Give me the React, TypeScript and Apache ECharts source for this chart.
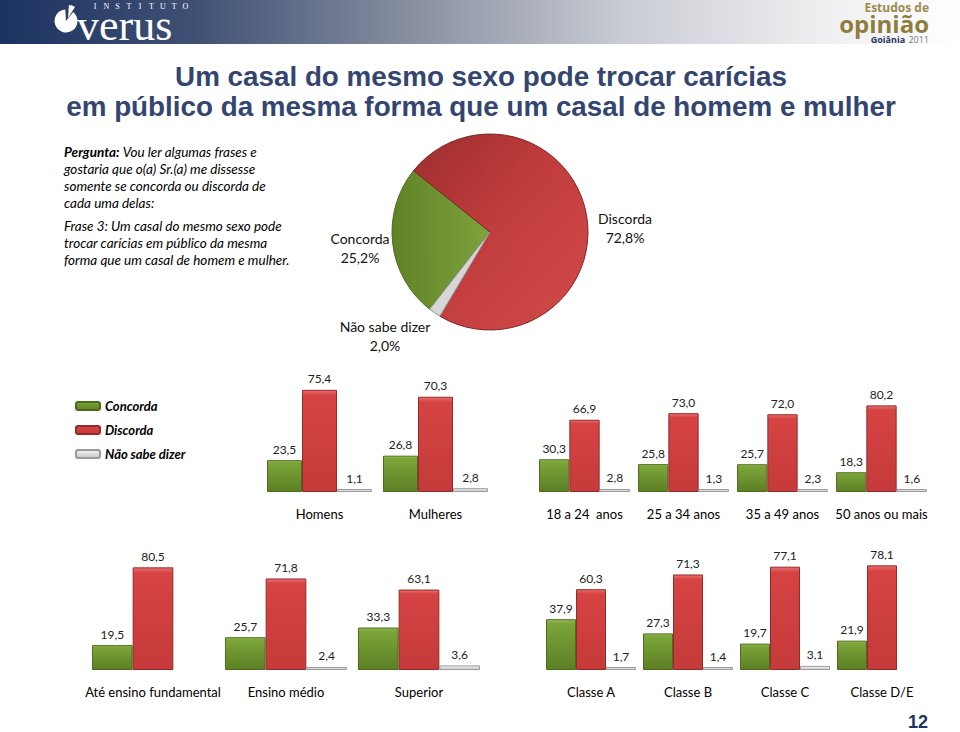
import React, { useEffect, useRef } from "react";
import * as echarts from "echarts";

// ---------- DATA ----------
const seriesNames = ["Concorda", "Discorda", "Não sabe dizer"];

const pieNames = ["Concorda", "Discorda", "Não sabe dizer"];
const pieValues = [25.2, 72.8, 2.0];

const genderCats = ["Homens", "Mulheres"];
const genderConcorda = [23.5, 26.8];
const genderDiscorda = [75.4, 70.3];
const genderNaoSabe = [1.1, 2.8];

const ageCats = ["18 a 24  anos", "25 a 34 anos", "35 a 49 anos", "50 anos ou mais"];
const ageConcorda = [30.3, 25.8, 25.7, 18.3];
const ageDiscorda = [66.9, 73.0, 72.0, 80.2];
const ageNaoSabe = [2.8, 1.3, 2.3, 1.6];

const eduCats = ["Até ensino fundamental", "Ensino médio", "Superior"];
const eduConcorda = [19.5, 25.7, 33.3];
const eduDiscorda = [80.5, 71.8, 63.1];
const eduNaoSabe: (number | null)[] = [null, 2.4, 3.6];

const classCats = ["Classe A", "Classe B", "Classe C", "Classe D/E"];
const classConcorda = [37.9, 27.3, 19.7, 21.9];
const classDiscorda = [60.3, 71.3, 77.1, 78.1];
const classNaoSabe: (number | null)[] = [1.7, 1.4, 3.1, null];

const titleLines = [
  "Um casal do mesmo sexo pode trocar carícias",
  "em público da mesma forma que um casal de homem e mulher",
];

// ---------- STYLES ----------
const FONT = "Lato, 'Open Sans', sans-serif";
const fmt = (v: number) => v.toFixed(1).replace(".", ",");

const greenFill = {
  type: "linear", x: 0, y: 0, x2: 0, y2: 1,
  colorStops: [
    { offset: 0, color: "#9cc05a" },
    { offset: 0.07, color: "#7ba53a" },
    { offset: 1, color: "#5c7f24" },
  ],
};
const redFill = {
  type: "linear", x: 0, y: 0, x2: 0, y2: 1,
  colorStops: [
    { offset: 0, color: "#e87070" },
    { offset: 0.05, color: "#d64343" },
    { offset: 1, color: "#c53a3a" },
  ],
};
const grayFill = {
  type: "linear", x: 0, y: 0, x2: 0, y2: 1,
  colorStops: [
    { offset: 0, color: "#f2f2f2" },
    { offset: 1, color: "#c8c8c8" },
  ],
};
const fills = [greenFill, redFill, grayFill];
const borders = ["#4d6b1c", "#962a2a", "#9a9a9a"];

function makeBars(gridIndex: number, values: (number | null)[][], barWidth: number) {
  return values.map((vals, i) => ({
    type: "bar",
    name: seriesNames[i],
    xAxisIndex: gridIndex,
    yAxisIndex: gridIndex,
    barWidth,
    barGap: "0%",
    barMinHeight: i === 2 ? 3 : 0,
    data: vals.map((v) => (v == null ? "-" : v)),
    itemStyle: { color: fills[i], borderColor: borders[i], borderWidth: 1 },
    label: {
      show: true,
      position: "top",
      distance: 5,
      fontFamily: FONT,
      fontSize: 12,
      color: "#222",
      formatter: (p: any) => (typeof p.value === "number" ? fmt(p.value) : ""),
    },
  }));
}

const grids = [
  { left: 261.5, top: 356.5, width: 232, height: 135.5 },
  { left: 535, top: 384, width: 396, height: 108 },
  { left: 86.5, top: 542.5, width: 399, height: 127.5 },
  { left: 542.5, top: 536, width: 388, height: 134 },
];
const catsList = [genderCats, ageCats, eduCats, classCats];

const pieLabelPos = [
  [360, 248],
  [625, 228],
  [385, 336],
];

export default function App() {
  const ref = useRef<HTMLDivElement>(null);
  useEffect(() => {
    if (!ref.current) return;
    const chart = echarts.init(ref.current, null, { renderer: "svg" });

    const instituto = "INSTITUTO".split("").map((ch, i) => ({
      type: "text",
      style: {
        text: ch,
        x: 95 + i * 11.3,
        y: 6.5,
        fill: "#ffffff",
        font: "8px 'Liberation Serif', serif",
        lineHeight: 8,
        align: "center",
        verticalAlign: "middle",
      },
    }));

    const option: any = {
      animation: false,
      backgroundColor: "#ffffff",
      graphic: [
        {
          type: "rect",
          shape: { x: 0, y: 0, width: 960, height: 44 },
          style: {
            fill: {
              type: "linear", x: 0, y: 0, x2: 1, y2: 0,
              colorStops: [
                { offset: 0, color: "#1b3260" },
                { offset: 0.2, color: "#3f5074" },
                { offset: 0.45, color: "#8e95a5" },
                { offset: 0.65, color: "#c9ccd4" },
                { offset: 0.85, color: "#eeeef0" },
                { offset: 1, color: "#ffffff" },
              ],
            },
          },
        },
        {
          type: "sector",
          shape: { cx: 66, cy: 21, r0: 0, r: 11.5, startAngle: -0.9, endAngle: 4.65, clockwise: true },
          style: { fill: "#ffffff" },
        },
        {
          type: "sector",
          shape: { cx: 68, cy: 18, r0: 0, r: 13, startAngle: -1.5, endAngle: -1.0, clockwise: true },
          style: { fill: "#ffffff" },
        },
        {
          type: "text",
          style: {
            text: "verus",
            x: 77,
            y: 25,
            fill: "#ffffff",
            font: "44px 'Liberation Serif', serif",
            lineHeight: 28,
            align: "left",
            verticalAlign: "middle",
          },
        },
        ...instituto,
        {
          type: "text",
          style: {
            text: "Estudos de",
            x: 929, y: 7,
            fill: "#9c8b4d",
            font: "bold 12px 'Open Sans', sans-serif",
            lineHeight: 13,
            align: "right", verticalAlign: "middle",
          },
        },
        {
          type: "text",
          style: {
            text: "opinião",
            x: 929, y: 23,
            fill: "#8f7d3b",
            font: "bold 24px 'Open Sans', sans-serif",
            lineHeight: 20,
            align: "right", verticalAlign: "middle",
          },
        },
        {
          type: "text",
          style: {
            text: "{a|Goiânia} {b|2011}",
            x: 929, y: 39,
            align: "right", verticalAlign: "middle",
            rich: {
              a: { fill: "#1f3461", font: "bold 9px 'Open Sans', sans-serif", lineHeight: 10 },
              b: { fill: "#777777", font: "9px 'Open Sans', sans-serif", lineHeight: 10 },
            },
          },
        },
        {
          type: "text",
          style: {
            text: titleLines[0],
            x: 481, y: 76,
            fill: "#34466f",
            font: "bold 27.8px 'Liberation Sans', Arial, sans-serif",
            align: "center", verticalAlign: "middle",
          },
        },
        {
          type: "text",
          style: {
            text: titleLines[1],
            x: 481, y: 106,
            fill: "#34466f",
            font: "bold 27.8px 'Liberation Sans', Arial, sans-serif",
            align: "center", verticalAlign: "middle",
          },
        },
        {
          type: "text",
          style: {
            text:
              "{b|Pergunta:} {i|Vou ler algumas frases e}\n{i|gostaria que o(a) Sr.(a) me dissesse}\n{i|somente se concorda ou discorda de}\n{i|cada uma delas:}",
            x: 64, y: 143.5,
            align: "left", verticalAlign: "top",
            rich: {
              b: { fill: "#000", font: `bold italic 13.5px ${FONT}`, lineHeight: 17 },
              i: { fill: "#000", font: `italic 13.5px ${FONT}`, lineHeight: 17 },
            },
          },
        },
        {
          type: "text",
          style: {
            text:
              "Frase 3: Um casal do mesmo sexo pode\ntrocar carícias em público da mesma\nforma que um casal de homem e mulher.",
            x: 64, y: 217.5,
            align: "left", verticalAlign: "top",
            fill: "#000",
            font: `italic 13.5px ${FONT}`,
            lineHeight: 17,
          },
        },
        {
          type: "text",
          style: {
            text: "12",
            x: 918, y: 722,
            fill: "#1f3461",
            font: "bold 18px 'Liberation Sans', Arial, sans-serif",
            align: "center", verticalAlign: "middle",
          },
        },
      ],
      legend: {
        data: seriesNames,
        orient: "vertical",
        left: 70,
        top: 393.5,
        itemWidth: 24,
        itemHeight: 8,
        itemGap: 9,
        icon: "roundRect",
        textStyle: {
          fontFamily: FONT,
          fontSize: 13,
          fontWeight: "bold",
          fontStyle: "italic",
          color: "#000",
          lineHeight: 15,
        },
        selectedMode: false,
      },
      grid: grids.map((g) => ({ ...g, containLabel: false })),
      xAxis: catsList.map((cats, i) => ({
        type: "category",
        gridIndex: i,
        data: cats,
        axisLine: { show: false },
        axisTick: { show: false },
        axisLabel: {
          interval: 0,
          margin: 15,
          fontFamily: FONT,
          fontSize: 13,
          color: "#000",
        },
      })),
      yAxis: grids.map((_, i) => ({
        type: "value",
        gridIndex: i,
        min: 0,
        max: 100,
        show: false,
        splitLine: { show: false },
      })),
      series: [
        {
          type: "pie",
          name: "Frase 3",
          center: [490, 232],
          radius: 98,
          startAngle: 232,
          clockwise: true,
          data: pieNames.map((n, i) => ({
            name: n,
            value: pieValues[i],
            itemStyle: {
              color:
                i === 0
                  ? {
                      type: "linear", x: 0, y: 0, x2: 1, y2: 0,
                      colorStops: [
                        { offset: 0, color: "#5f8226" },
                        { offset: 1, color: "#7fa23e" },
                      ],
                    }
                  : i === 1
                  ? {
                      type: "linear", x: 0, y: 0, x2: 1, y2: 1,
                      colorStops: [
                        { offset: 0, color: "#9c2e2e" },
                        { offset: 0.45, color: "#c13c3c" },
                        { offset: 1, color: "#d24b4b" },
                      ],
                    }
                  : "#d6d6d6",
              borderColor: i === 0 ? "#4d6b1c" : i === 1 ? "#7e2626" : "#999",
              borderWidth: 1,
            },
          })),
          label: {
            show: true,
            position: "outside",
            fontFamily: FONT,
            fontSize: 14,
            lineHeight: 19,
            color: "#111",
            align: "center",
            formatter: (p: any) => `${p.name}\n${fmt(p.value)}%`,
          },
          labelLine: { show: false },
          labelLayout: (params: any) => {
            const pos = pieLabelPos[params.dataIndex];
            return { x: pos[0], y: pos[1], align: "center", verticalAlign: "middle" };
          },
          emphasis: { disabled: true },
        },
        ...makeBars(0, [genderConcorda, genderDiscorda, genderNaoSabe], 35),
        ...makeBars(1, [ageConcorda, ageDiscorda, ageNaoSabe], 30.3),
        ...makeBars(2, [eduConcorda, eduDiscorda, eduNaoSabe], 40.7),
        ...makeBars(3, [classConcorda, classDiscorda, classNaoSabe], 30),
      ],
    };
    chart.setOption(option);
    return () => chart.dispose();
  }, []);
  return (
    <div
      ref={ref}
      style={{ position: "fixed", left: 0, top: 0, width: 960, height: 732, background: "#fff" }}
    />
  );
}
